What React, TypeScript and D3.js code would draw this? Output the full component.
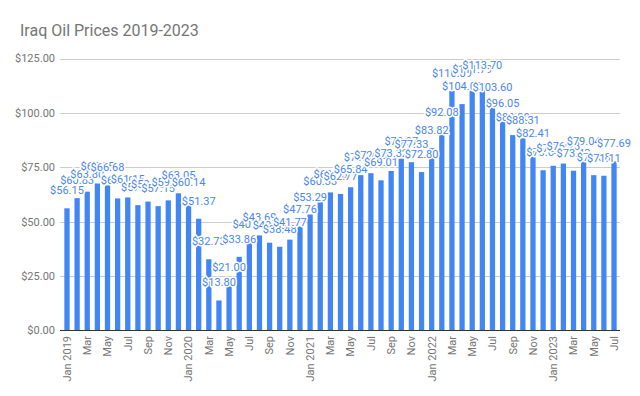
import React from "react";
import * as d3 from "d3";

const months = ["Jan","Feb","Mar","Apr","May","Jun","Jul","Aug","Sep","Oct","Nov","Dec"];
const years = [2019, 2020, 2021, 2022, 2023];

const prices2019 = [56.15, 60.83, 63.80, 67.55, 66.68, 60.70, 61.15, 57.60, 59.25, 57.15, 59.80, 63.05];
const prices2020 = [60.14, 51.37, 32.73, 13.80, 21.00, 33.86, 40.60, 43.69, 40.35, 38.48, 41.77, 47.76];
const prices2021 = [53.29, 60.33, 63.45, 62.77, 65.84, 71.40, 72.30, 69.01, 73.32, 78.97, 77.33, 72.80];
const prices2022 = [83.82, 92.08, 110.09, 104.05, 111.79, 113.70, 103.60, 96.05, 89.80, 88.31, 82.41, 73.64];
const prices2023 = [75.70, 76.73, 73.43, 79.04, 71.38, 71.11, 77.69];

const yTicks = [0, 25, 50, 75, 100, 125];

const allPrices = [prices2019, prices2020, prices2021, prices2022, prices2023];
const data = allPrices.flatMap((arr, yi) =>
  arr.map((v, mi) => ({ year: years[yi], month: mi, value: v, key: `${years[yi]}-${mi}` }))
);

const W = 640, H = 396;
const fmt = (v: number) => "$" + v.toFixed(2);

export default function App() {
  const x = d3.scaleBand<string>()
    .domain(data.map(d => d.key))
    .range([61, 620])
    .paddingInner(0.48)
    .paddingOuter(0.33);
  const y = d3.scaleLinear().domain([0, 125]).range([330.5, 58.5]);
  const font = "Roboto, Arial, sans-serif";

  return (
    <svg width={W} height={H} style={{ position: "absolute", left: 0, top: 0, background: "#fff" }} fontFamily={font}>
      <text x={20} y={36} fontSize={16} fill="#757575">Iraq Oil Prices 2019-2023</text>
      {yTicks.map(t => (
        <g key={t}>
          {t !== 0 && <line x1={60} x2={620} y1={Math.round(y(t)) + 0.5} y2={Math.round(y(t)) + 0.5} stroke="#cccccc" strokeWidth={1} />}
          <text x={55} y={y(t)} dy="0.35em" textAnchor="end" fontSize={11} fill="#757575">{fmt(t)}</text>
        </g>
      ))}
      {data.map(d => (
        <rect key={d.key} x={x(d.key)} y={y(d.value)} width={x.bandwidth()} height={y(0) - y(d.value)} fill="#4285f4" />
      ))}
      <line x1={60} x2={620} y1={330.5} y2={330.5} stroke="#333333" strokeWidth={1} />
      {data.map(d => (
        <text key={"l" + d.key} x={(x(d.key) as number) + x.bandwidth() / 2} y={y(d.value) - 14}
          textAnchor="middle" fontSize={11} fill="#4a86f0" stroke="#ffffff" strokeWidth={3}
          strokeLinejoin="round" style={{ paintOrder: "stroke" }}>{fmt(d.value)}</text>
      ))}
      {data.filter(d => d.month % 2 === 0).map(d => {
        const cx = (x(d.key) as number) + x.bandwidth() / 2;
        const label = d.month === 0 ? `Jan ${d.year}` : months[d.month];
        return (
          <text key={"x" + d.key} transform={`translate(${cx},336) rotate(-90)`} dy="0.35em"
            textAnchor="end" fontSize={11} fill="#757575">{label}</text>
        );
      })}
    </svg>
  );
}
